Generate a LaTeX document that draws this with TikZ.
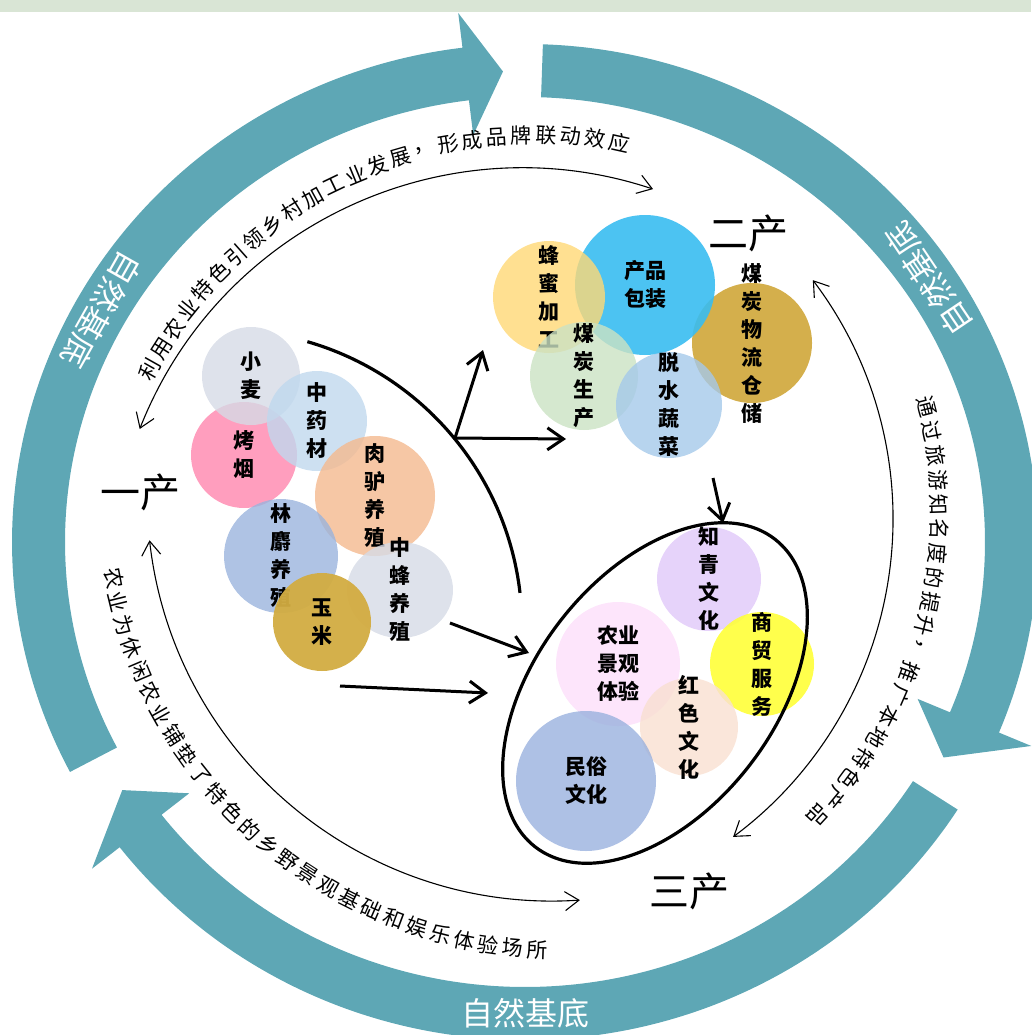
\documentclass[tikz,border=0pt]{standalone}
\usepackage{fontspec}
\setmainfont{Noto Sans CJK SC}
\usetikzlibrary{arrows.meta,calc}

\definecolor{ringteal}{HTML}{5EA7B5}
\definecolor{topband}{HTML}{D9E5D5}
\definecolor{wheat}{HTML}{D6DBE6}
\definecolor{herb}{HTML}{C0D8EE}
\definecolor{tobacco}{HTML}{FF86AE}
\definecolor{donkey}{HTML}{F4B98F}
\definecolor{musk}{HTML}{9BB4DD}
\definecolor{corn}{HTML}{D2AC41}
\definecolor{honey}{HTML}{FFD876}
\definecolor{pack}{HTML}{39BDF1}
\definecolor{coal}{HTML}{CBE2C3}
\definecolor{veg}{HTML}{A5C9EA}
\definecolor{logistic}{HTML}{CFA638}
\definecolor{youth}{HTML}{E0C8F9}
\definecolor{trade}{HTML}{FFFF39}
\definecolor{scenery}{HTML}{FCDEFA}
\definecolor{redculture}{HTML}{F9E0D1}
\definecolor{folk}{HTML}{9AB1DE}

\tikzset{
  ringband/.style={fill=ringteal},
  ringlabel/.style={text=white, inner sep=0pt, font=\fontsize{32}{32}\selectfont},
  arcfont/.style={inner sep=0pt, font=\fontsize{21}{21}\selectfont},
  thinarc/.style={line width=1.1pt, {Straight Barb[length=14pt,width=19pt]}-{Straight Barb[length=14pt,width=19pt]}},
  flow/.style={line width=3pt, -{Straight Barb[length=16pt,width=22pt]}},
  boundary/.style={line width=3.2pt},
  bubfill/.style={fill=#1, fill opacity=.8},
  bubtext/.style={align=center, inner sep=0pt, font=\bfseries\fontsize{21}{28}\selectfont},
  sector/.style={inner sep=0pt, font=\fontsize{40}{40}\selectfont}
}

% one teal band of the ring: start angle, end angle, tip
\newcommand{\ringarrow}[3]{%
  \fill[ringband] ($(ringC)+(#1:513 and 498)$)
    arc[start angle=#1, end angle=#2, x radius=513, y radius=498]
    -- ($(ringC)+(#2:548 and 533)$) -- ($(ringC)+(#3)$)
    -- ($(ringC)+(#2:425 and 410)$) -- ($(ringC)+(#2:460 and 445)$)
    arc[start angle=#2, end angle=#1, x radius=460, y radius=445] -- cycle;}

% bubble: name, centre, radius, fill, text
\newcommand{\bubble}[5]{%
  \fill[#4] #2 circle (#3);
  \node[bubtext] (#1) at #2 {#5};}

\begin{document}
\begin{tikzpicture}[x=1pt, y=1pt]
  \useasboundingbox (0,0) rectangle (1031,-1035);
  \fill[topband] (0,0) rectangle (1031,-12);

  % Outer ring
  \coordinate (ringC) at (525,-542);
  \ringarrow{207.5}{97}{92.6:486 and 471}
  \ringarrow{88}{-22.5}{-28:474 and 459}
  \ringarrow{-32.5}{-142.2}{-147.6:477 and 463}
  \node[ringlabel, rotate=240.5] (baseL) at ($(ringC)+(150.5:486.5 and 471.5)$) {自然基底};
  \node[ringlabel, rotate=123.9] (baseR) at ($(ringC)+(33.9:486.5 and 471.5)$) {自然基底};
  \node[ringlabel] (baseB) at ($(ringC)+(270:486.5 and 471.5)$) {自然基底};

  % Inner arcs
  \coordinate (topC) at (523,-580);
  \coordinate (rightC) at (497,-519);
  \coordinate (leftC) at (553,-495);
  \coordinate (topS) at ($(topC)+(158.5:412)$);
  \coordinate (rightS) at ($(rightC)+(37.1:396)$);
  \coordinate (leftS) at ($(leftC)+(186.4:406)$);
  \draw[thinarc] (topS) arc[start angle=158.5, end angle=71.6, radius=412];
  \draw[thinarc] (rightS) arc[start angle=37.1, end angle=-53.4, radius=396];
  \draw[thinarc] (leftS) arc[start angle=186.4, end angle=273.8, radius=406];

  \foreach \w [count=\i] in {利,用,农,业,特,色,引,领,乡,村,加,工,业,发,展,，,形,成,品,牌,联,动,效,应}{
    \pgfmathsetmacro\ang{150.6-(\i-1)*73.1/23}
    \pgfmathsetmacro\rad{428+(\i-1)*20/23}
    \node[arcfont, rotate=\ang-90] (up\i) at ($(topC)+(\ang:\rad)$) {\w};
  }
  \foreach \w [count=\i] in {通,过,旅,游,知,名,度,的,提,升,，,推,广,本,地,特,色,产,品}{
    \pgfmathsetmacro\ang{14.6-(\i-1)*57.3/18}
    \pgfmathsetmacro\rad{444-(\i-1)*7/18}
    \node[arcfont, rotate=\ang-90] (rt\i) at ($(rightC)+(\ang:\rad)$) {\w};
  }
  \foreach \w [count=\i] in {农,业,为,休,闲,农,业,铺,垫,了,特,色,的,乡,野,景,观,基,础,和,娱,乐,体,验,场,所}{
    \pgfmathsetmacro\ang{190.7+(\i-1)*77.3/25}
    \pgfmathsetmacro\rad{447+(\i-1)*8/25}
    \node[arcfont, rotate=\ang+90] (lo\i) at ($(leftC)+(\ang:\rad)$) {\w};
  }

  % 一产
  \node[sector] (yichan) at (140,-492) {一产};
  \bubble{kaoyan}{(244,-455)}{53}{bubfill=tobacco}{烤\\烟}
  \bubble{xiaomai}{(251,-376)}{49}{bubfill=wheat}{小\\麦}
  \bubble{yaocai}{(317,-421)}{50}{bubfill=herb}{中\\药\\材}
  \bubble{roulv}{(375,-496)}{60}{bubfill=donkey}{肉\\驴\\养\\殖}
  \bubble{linshe}{(281,-556)}{57}{bubfill=musk}{林\\麝\\养\\殖}
  \bubble{zhongfeng}{(400,-590)}{53 and 48}{bubfill=wheat}{中\\蜂\\养\\殖}
  \bubble{yumi}{(322,-622)}{49}{bubfill=corn, fill opacity=.95}{玉\\米}

  % 二产
  \node[sector] (erchan) at (748,-233) {二产};
  \bubble{wuliu}{(752,-343)}{60}{bubfill=logistic, fill opacity=.9}{煤\\炭\\物\\流\\仓\\储}
  \bubble{baozhuang}{(645,-285)}{70}{bubfill=pack, fill opacity=.9}{产品\\包装}
  \bubble{fengmi}{(549,-297)}{56}{bubfill=honey}{蜂\\蜜\\加\\工}
  \bubble{meitan}{(584,-376)}{54}{bubfill=coal}{煤\\炭\\生\\产}
  \bubble{shucai}{(669,-405)}{53}{bubfill=veg}{脱\\水\\蔬\\菜}

  % 三产
  \node[sector] (sanchan) at (689,-891) {三产};
  \bubble{zhiqing}{(709,-579)}{52}{bubfill=youth}{知\\青\\文\\化}
  \bubble{shangmao}{(762,-664)}{52}{bubfill=trade, fill opacity=.9}{商\\贸\\服\\务}
  \bubble{jingguan}{(618,-664)}{62}{bubfill=scenery}{农业\\景观\\体验}
  \bubble{hongse}{(689,-727)}{49}{bubfill=redculture}{红\\色\\文\\化}
  \bubble{minsu}{(586,-781)}{70}{bubfill=folk}{民俗\\文化}
  \coordinate (sanC) at (655,-693);
  \draw[boundary, rotate around={52:(sanC)}] (sanC) ellipse[x radius=195, y radius=119];

  % Flows between the sectors
  \coordinate (bndC) at (225,-627);
  \coordinate (bndS) at ($(bndC)+(73.9:297)$);
  \draw[boundary] (bndS) arc[start angle=73.9, end angle=6.6, radius=297];
  \coordinate (fork) at (455,-438);
  \coordinate (toHoney) at (483,-350);
  \coordinate (toCoal) at (566,-439);
  \coordinate (beeOut) at (450,-623);
  \coordinate (beeIn) at (529,-653);
  \coordinate (cornOut) at (340,-686);
  \coordinate (cornIn) at (488,-693);
  \coordinate (vegOut) at (713,-478);
  \coordinate (vegIn) at (723,-523);
  \draw[flow] (fork) -- (toHoney);
  \draw[flow] (fork) -- (toCoal);
  \draw[flow] (beeOut) -- (beeIn);
  \draw[flow] (cornOut) -- (cornIn);
  \draw[flow] (vegOut) -- (vegIn);
\end{tikzpicture}
\end{document}
